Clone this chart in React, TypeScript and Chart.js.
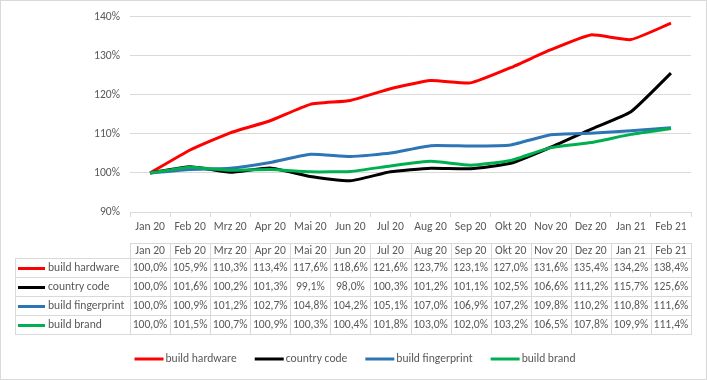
import React, { useEffect, useRef } from "react";
import { Chart, registerables } from "chart.js";

Chart.register(...registerables);

const months = ["Jan 20", "Feb 20", "Mrz 20", "Apr 20", "Mai 20", "Jun 20", "Jul 20", "Aug 20", "Sep 20", "Okt 20", "Nov 20", "Dez 20", "Jan 21", "Feb 21"];
const buildHardware = [100.0, 105.9, 110.3, 113.4, 117.6, 118.6, 121.6, 123.7, 123.1, 127.0, 131.6, 135.4, 134.2, 138.4];
const countryCode = [100.0, 101.6, 100.2, 101.3, 99.1, 98.0, 100.3, 101.2, 101.1, 102.5, 106.6, 111.2, 115.7, 125.6];
const buildFingerprint = [100.0, 100.9, 101.2, 102.7, 104.8, 104.2, 105.1, 107.0, 106.9, 107.2, 109.8, 110.2, 110.8, 111.6];
const buildBrand = [100.0, 101.5, 100.7, 100.9, 100.3, 100.4, 101.8, 103.0, 102.0, 103.2, 106.5, 107.8, 109.9, 111.4];
const seriesNames = ["build hardware", "country code", "build fingerprint", "build brand"];
const seriesValues = [buildHardware, countryCode, buildFingerprint, buildBrand];
const seriesColors = ["#ff0000", "#000000", "#2e75b6", "#00b050"];
const yMin = 90;
const yMax = 140;
const yStep = 10;

const FONT = "Carlito, Lato, sans-serif";
const FS = 11.6;
const TEXT = "#595959";
const GRID = "#d9d9d9";

const fmt = (v: number) => v.toFixed(1).replace(".", ",") + "%";

const tablePlugin = {
  id: "dataTable",
  afterDraw(chart: any) {
    const ctx = chart.ctx as CanvasRenderingContext2D;
    const xs = chart.scales.x;
    const n = months.length;
    const left = chart.chartArea.left;
    const right = chart.chartArea.right;
    const cw = (right - left) / n;
    const legLeft = 15;
    const rows = [243, 258, 277, 296, 315, 334];
    ctx.save();
    ctx.strokeStyle = GRID;
    ctx.lineWidth = 1;
    const hl = (x1: number, x2: number, y: number) => {
      ctx.beginPath();
      ctx.moveTo(x1, y + 0.5);
      ctx.lineTo(x2, y + 0.5);
      ctx.stroke();
    };
    const vl = (x: number, y1: number, y2: number) => {
      ctx.beginPath();
      ctx.moveTo(Math.round(x) + 0.5, y1);
      ctx.lineTo(Math.round(x) + 0.5, y2);
      ctx.stroke();
    };
    hl(Math.round(left), Math.round(right) + 1, rows[0]);
    for (let i = 1; i < rows.length; i++) hl(legLeft, Math.round(right) + 1, rows[i]);
    vl(legLeft, rows[1], rows[rows.length - 1] + 1);
    for (let i = 0; i <= n; i++) vl(left + i * cw, rows[0], rows[rows.length - 1] + 1);

    ctx.font = `${FS}px ${FONT}`;
    ctx.fillStyle = TEXT;
    ctx.textBaseline = "middle";
    ctx.textAlign = "center";
    for (let i = 0; i < n; i++) {
      const cx = xs.getPixelForValue(i);
      ctx.fillText(months[i], cx, (rows[0] + rows[1]) / 2 + 1);
      for (let r = 0; r < seriesValues.length; r++) {
        ctx.fillText(fmt(seriesValues[r][i]), cx, (rows[r + 1] + rows[r + 2]) / 2 + 1);
      }
    }
    ctx.textAlign = "left";
    for (let r = 0; r < seriesNames.length; r++) {
      const cy = (rows[r + 1] + rows[r + 2]) / 2 + 1;
      ctx.strokeStyle = seriesColors[r];
      ctx.lineWidth = 3;
      ctx.beginPath();
      ctx.moveTo(18, cy);
      ctx.lineTo(45, cy);
      ctx.stroke();
      ctx.fillStyle = TEXT;
      ctx.fillText(seriesNames[r], 48, cy);
    }

    // bottom legend
    const lineLen = 29;
    const gap = 2;
    const itemGap = 18;
    const widths = seriesNames.map((s) => ctx.measureText(s).width);
    const total = widths.reduce((a, w) => a + lineLen + gap + w, 0) + itemGap * (seriesNames.length - 1);
    let x = 355 - total / 2;
    const ly = 359;
    for (let r = 0; r < seriesNames.length; r++) {
      ctx.strokeStyle = seriesColors[r];
      ctx.lineWidth = 3;
      ctx.beginPath();
      ctx.moveTo(x, ly);
      ctx.lineTo(x + lineLen, ly);
      ctx.stroke();
      ctx.fillStyle = TEXT;
      ctx.fillText(seriesNames[r], x + lineLen + gap, ly);
      x += lineLen + gap + widths[r] + itemGap;
    }

    // outer border
    ctx.strokeStyle = GRID;
    ctx.lineWidth = 1;
    ctx.strokeRect(0.5, 0.5, chart.width - 1, chart.height - 1);
    ctx.restore();
  },
};

export default function App() {
  const ref = useRef<HTMLCanvasElement | null>(null);
  useEffect(() => {
    if (!ref.current) return;
    const chart = new Chart(ref.current, {
      type: "line",
      data: {
        labels: months,
        datasets: seriesValues.map((vals, i) => ({
          label: seriesNames[i],
          data: vals,
          borderColor: seriesColors[i],
          backgroundColor: seriesColors[i],
          borderWidth: 3,
          pointRadius: 0,
          tension: 0.15,
          fill: false,
          order: seriesValues.length - i,
        })),
      },
      options: {
        animation: false,
        responsive: false,
        devicePixelRatio: 1,
        layout: { padding: { left: 0, right: 16, top: 15, bottom: 0 } },
        plugins: { legend: { display: false }, tooltip: { enabled: false } },
        scales: {
          x: {
            type: "category",
            offset: true,
            grid: { drawOnChartArea: false, drawTicks: true, tickLength: 5, color: GRID, offset: true },
            border: { display: true, color: GRID },
            ticks: { color: TEXT, font: { family: FONT, size: FS }, padding: 3, maxRotation: 0, autoSkip: false },
            afterFit: (s: any) => {
              s.height = 168;
            },
          },
          y: {
            min: yMin,
            max: yMax,
            ticks: {
              stepSize: yStep,
              color: TEXT,
              font: { family: FONT, size: FS },
              padding: 10,
              callback: (v: any) => v + "%",
            },
            grid: { color: GRID, drawTicks: false },
            border: { display: false },
            afterFit: (s: any) => {
              s.width = 130;
            },
          },
        },
      },
      plugins: [tablePlugin],
    });
    return () => chart.destroy();
  }, []);
  return (
    <div style={{ position: "absolute", left: 0, top: 0, width: 707, height: 380, background: "#fff" }}>
      <canvas ref={ref} width={707} height={380} style={{ display: "block" }} />
    </div>
  );
}
